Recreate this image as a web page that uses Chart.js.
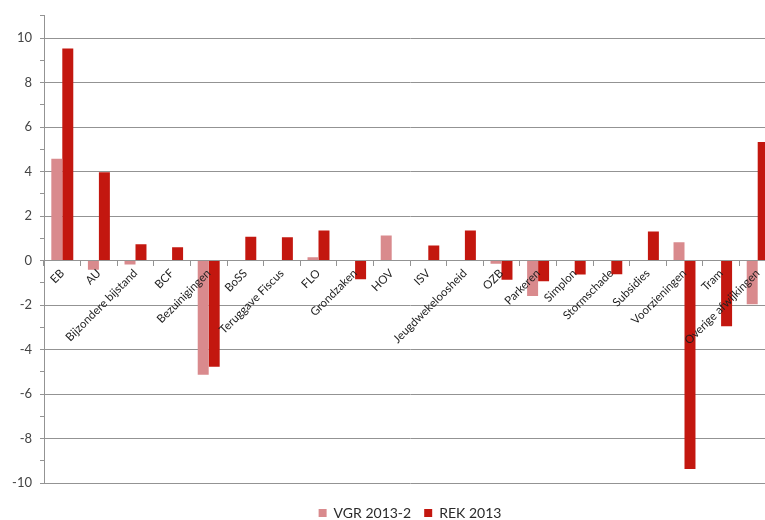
<!DOCTYPE html>
<html><head><meta charset="utf-8">
<script src="https://cdn.jsdelivr.net/npm/chart.js@4.4.1/dist/chart.umd.min.js"></script>
<style>html,body{margin:0;padding:0;background:#fff;overflow:hidden}
#wrap{width:776px;height:520px;position:relative}</style></head>
<body><div id="wrap"><canvas id="c"></canvas></div>
<script>
const categories = ['EB','AU','Bijzondere bijstand','BCF','Bezuinigingen','BoSS','Teruggave Fiscus','FLO','Grondzaken','HOV','ISV','Jeugdwekeloosheid','OZB','Parkeren','Simplon','Stormschade','Subsidies','Voorzieningen','Tram','Overige afwijkingen'];
const vgr2013 = [4.57, -0.41, -0.18, 0, -5.13, 0, 0, 0.15, 0, 1.13, 0, 0, -0.15, -1.6, 0, 0, 0, 0.82, 0, -1.96];
const rek2013 = [9.53, 3.97, 0.73, 0.6, -4.77, 1.07, 1.05, 1.35, -0.84, 0, 0.68, 1.35, -0.86, -0.93, -0.63, -0.62, 1.3, -9.37, -2.95, 5.33];
const seriesNames = ['VGR 2013-2', 'REK 2013'];
const yMin = -10, yMax = 11, yMajorStep = 2;

const grid = '#939393';
new Chart(document.getElementById('c'), {
  type: 'bar',
  data: {
    labels: categories,
    datasets: [
      {label: seriesNames[0], data: vgr2013, backgroundColor: '#d98a8d', categoryPercentage: 0.6, barPercentage: 1.0},
      {label: seriesNames[1], data: rek2013, backgroundColor: '#c3170f', categoryPercentage: 0.6, barPercentage: 1.0}
    ]
  },
  options: {
    responsive: true, maintainAspectRatio: false, animation: false,
    layout: {padding: {top: 11, left: 0, right: 0, bottom: -10}},
    plugins: {
      tooltip: {enabled: false},
      legend: {
        position: 'bottom',
        fullSize: false,
        title: {display: true, text: ' ', font: {size: 1, lineHeight: 1}, padding: {top: 0, bottom: 9}},
        labels: {boxWidth: 8, boxHeight: 8, padding: 13, color: '#2a2a2a', font: {family: 'Lato', size: 14}}
      }
    },
    scales: {
      x: {
        position: {y: 0},
        grid: {offset: true, drawOnChartArea: false, color: grid, tickLength: 5},
        border: {color: grid},
        ticks: {z: 1, autoSkip: false, minRotation: 45, maxRotation: 45, padding: 1, color: '#1e1e1e', font: {family: 'Lato', size: 11.5}}
      },
      y: {
        min: yMin, max: yMax,
        afterFit: s => { s.width = 44; },
        ticks: {stepSize: 1, padding: 8, color: '#444', font: {family: 'Lato', size: 13},
          callback: v => (v % yMajorStep === 0 ? String(v) : '')},
        grid: {
          color: c => (c.tick && c.tick.value % yMajorStep === 0 ? grid : 'rgba(0,0,0,0)'),
          tickColor: grid, tickLength: 4
        },
        border: {color: grid}
      }
    }
  }
});
</script></body></html>
